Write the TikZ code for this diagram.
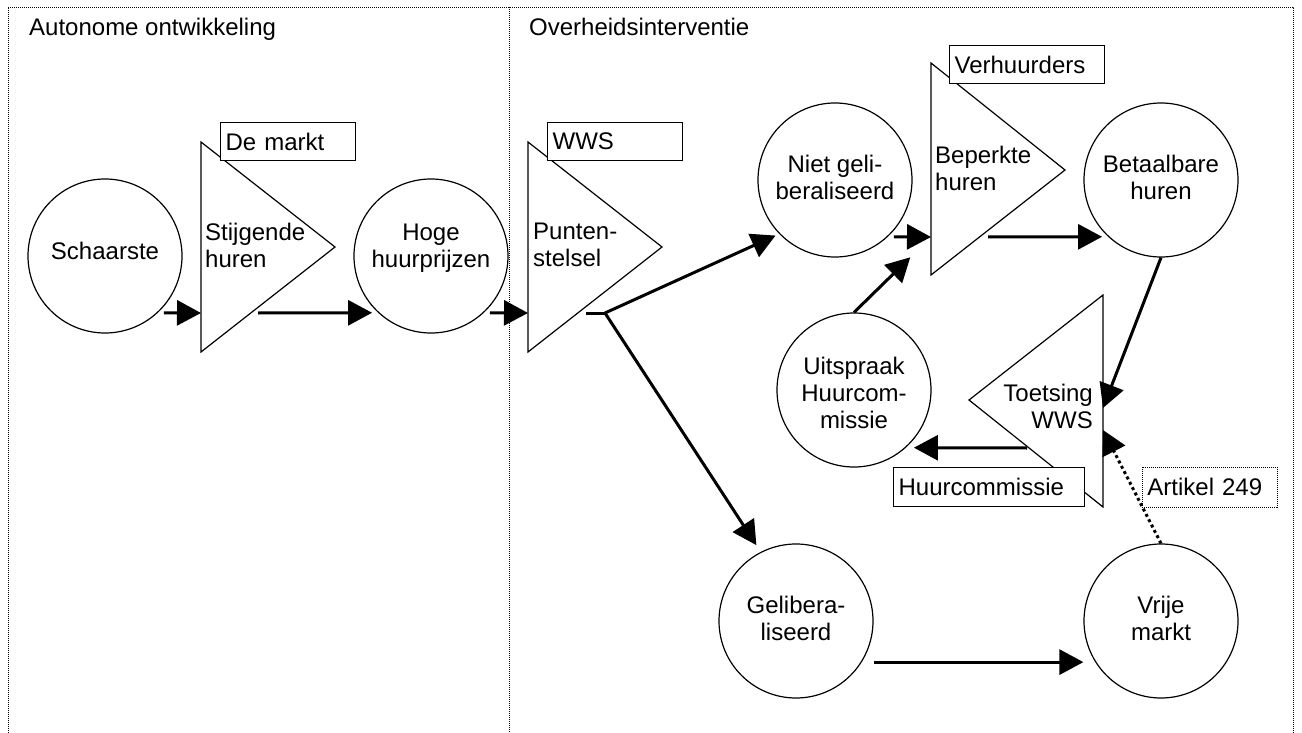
\documentclass[tikz,border=0pt]{standalone}
\usepackage{fontspec}
\setmainfont{Liberation Sans}
\usetikzlibrary{arrows.meta, positioning}

\tikzset{
    bubble/.style={circle, draw, line width=1.2pt, minimum size=154pt, inner sep=0pt},
    txt/.style={font=\fontsize{24}{27}\selectfont, align=center, inner sep=0pt},
    tri/.style={draw, line width=1.2pt, line join=miter},
    tag/.style={draw, fill=white, line width=1.2pt, anchor=north west, inner xsep=5pt, inner ysep=0pt, align=left, font=\fontsize{24}{27}\selectfont},
    flow/.style={line width=3pt, -{Triangle[length=24pt,width=25pt]}},
    flowdot/.style={line width=3pt, dash pattern=on 3pt off 3pt, -{Triangle[length=24pt,width=25pt]}},
    dotframe/.style={line width=0.8pt, dash pattern=on 1pt off 1pt},
}

\begin{document}
\begin{tikzpicture}[x=1pt, y=-1pt]
            \useasboundingbox (0,0) rectangle (1302,733);

            % frames
            \draw[dotframe] (8,733) -- (8,7) -- (1293,7) -- (1293,733);
            \draw[dotframe] (509,7) -- (509,733);
            \node[txt, anchor=base west] (autoTitle) at (29,36) {Autonome ontwikkeling};
            \node[txt, anchor=base west] (overTitle) at (529,36) {Overheidsinterventie};

            % circles
            \node[bubble, label={[txt, yshift=5pt]center:Schaarste}] (schaarste) at (105,256) {};
            \node[bubble, label={[txt, yshift=8pt]center:Hoge\\huurprijzen}] (hoge) at (431,256) {};
            \node[bubble, label={[txt, yshift=3pt]center:Niet geli-\\beraliseerd}] (niet) at (835,180) {};
            \node[bubble, label={[txt, yshift=3pt]center:Betaalbare\\huren}] (betaal) at (1161,180) {};
            \node[bubble, label={[txt, yshift=-3pt]center:Uitspraak\\Huurcom-\\missie}] (uitspraak) at (854,390) {};
            \node[bubble, label={[txt, yshift=3pt]center:Gelibera-\\liseerd}] (geli) at (796,621) {};
            \node[bubble, label={[txt, yshift=3pt]center:Vrije\\markt}] (vrije) at (1161,621) {};

            % triangles
            \draw[tri] (201,142) -- (335,247) -- (201,352) -- cycle;
            \draw[tri] (528,142) -- (662,247) -- (528,352) -- cycle;
            \draw[tri] (931,63) -- (1065,170) -- (931,275) -- cycle;
            \draw[tri] (1103,295) -- (969,400) -- (1103,507) -- cycle;
            \node[txt, align=left, anchor=west] (stijTxt) at (205,245) {Stijgende\\huren};
            \node[txt, align=left, anchor=west] (puntTxt) at (533,245) {Punten-\\stelsel};
            \node[txt, align=left, anchor=west] (bepTxt) at (935,168) {Beperkte\\huren};
            \node[txt, align=right, anchor=east] (toetsTxt) at (1093,406) {Toetsing\\WWS};

            % actors
            \node[tag, text width=125pt, minimum height=38pt] (markt) at (220,122) {De markt};
            \node[tag, text width=125pt, minimum height=38pt] (wws) at (547,122) {WWS};
            \node[tag, text width=145pt, minimum height=38pt] (verh) at (949,45) {Verhuurders};
            \node[tag, text width=181pt, minimum height=39pt] (huurc) at (893,467) {Huurcommissie};
            \node[tag, dotframe, text width=125pt, minimum height=40pt] (artikel) at (1142,467) {Artikel 249};

            % connectors
            \coordinate (stijIn) at (201,313);
            \coordinate (stijOut) at (258,313);
            \coordinate (puntIn) at (528,313);
            \coordinate (puntOut) at (586,313);
            \coordinate (fork) at (605,313);
            \coordinate (bepIn) at (931,237);
            \coordinate (bepOut) at (988,237);
            \coordinate (toetsIn) at (1103,408);
            \coordinate (toetsOut) at (1027,448);
            \coordinate (artIn) at (1103,430);

            \draw[flow, shorten <=6pt] (schaarste.-47.7) -- (stijIn);
            \draw[flow, shorten >=6pt] (stijOut) -- (hoge.227.7);
            \draw[flow, shorten <=6pt] (hoge.-47.7) -- (puntIn);
            \draw[line width=3pt] (puntOut) -- (fork);
            \draw[flow, shorten >=4pt] (fork) -- (niet.224);
            \draw[flow, shorten >=8pt] (fork) -- (geli.117);
            \draw[flow, shorten <=6pt] (niet.-47.7) -- (bepIn);
            \draw[flow, shorten >=6pt] (bepOut) -- (betaal.227.7);
            \draw[flow, shorten >=29pt] (uitspraak.north) -- (bepIn);
            \draw[flow] (betaal.south) -- (toetsIn);
            \draw[flow, shorten >=8pt] (toetsOut) -- (uitspraak.-48.9);
            \draw[flow, shorten <=12pt] (geli.-32) -- (geli.-32 -| vrije.west);
            \draw[flowdot] (vrije.north) -- (artIn);
\end{tikzpicture}
\end{document}
